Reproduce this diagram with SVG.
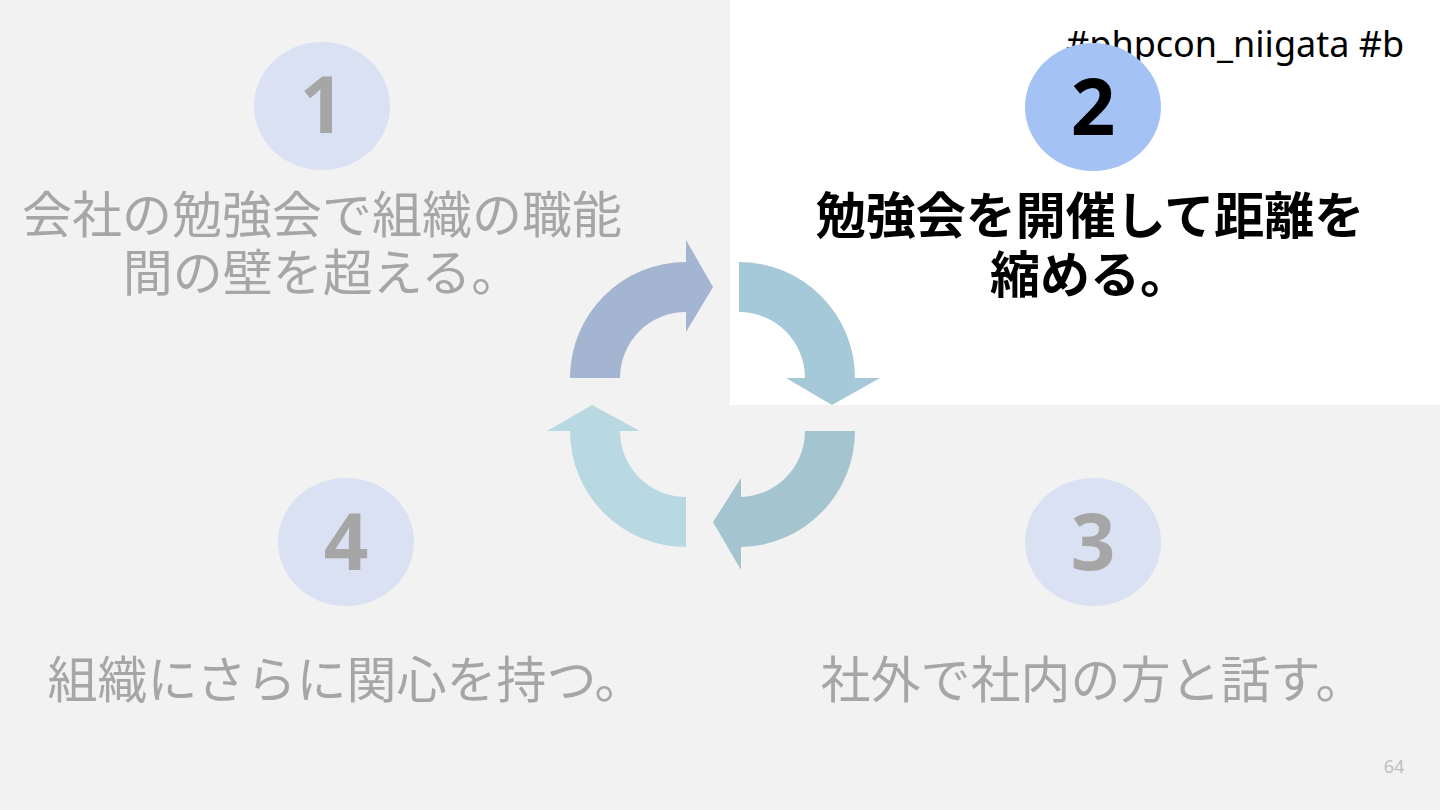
<svg xmlns="http://www.w3.org/2000/svg" width="1440" height="810" viewBox="0 0 1440 810">
<style>
.jp{font-family:"Noto Sans CJK JP","Noto Sans",sans-serif;font-size:50px;text-anchor:middle}
.dim{fill:#a6a6a6}
.num{font-family:"Noto Sans","Open Sans",sans-serif;font-weight:bold;font-size:78px;text-anchor:middle}
.cdim{fill:#d9e1f2}
</style>
<rect width="1440" height="810" fill="#f2f2f2"/>
<rect x="730" y="0" width="710" height="405" fill="#ffffff"/>
<text x="1066" y="57" font-family="Noto Sans, Open Sans, sans-serif" font-size="36" fill="#000">#phpcon_niigata #b</text>
<g id="connectors">
<path d="M570,378 A116,116 0 0 1 686,262 L686,240 L713,287 L686,332 L686,312 A66,66 0 0 0 620,378 Z" fill="#a3b5d0"/>
<path d="M739,262 A116,116 0 0 1 855,378 L880,378 L832,405 L786,378 L805,378 A66,66 0 0 0 739,312 Z" fill="#a6c9d9"/>
<path d="M855,431 A116,116 0 0 1 741,547 L741,570 L713,522 L741,478 L741,497 A66,66 0 0 0 805,431 Z" fill="#a4c5cf"/>
<path d="M686,547 A116,116 0 0 1 570,431 L547,431 L592,405 L640,431 L620,431 A66,66 0 0 0 686,497 Z" fill="#b9d9e2"/>
</g>
<g id="node1">
<ellipse cx="322" cy="106" rx="68" ry="64" class="cdim"/>
<text x="322" y="133" class="num dim">1</text>
<text x="322" y="233" class="jp dim">会社の勉強会で組織の職能</text>
<text x="322" y="291" class="jp dim">間の壁を超える。</text>
</g>
<g id="node2">
<ellipse cx="1093" cy="107" rx="68" ry="64" fill="#a4c2f4"/>
<text x="1093" y="135" class="num" fill="#000">2</text>
<text x="1090" y="234" class="jp" font-weight="bold" fill="#000">勉強会を開催して距離を</text>
<text x="1090" y="293" class="jp" font-weight="bold" fill="#000">縮める。</text>
</g>
<g id="node3">
<ellipse cx="1093" cy="542" rx="68" ry="64" class="cdim"/>
<text x="1093" y="570" class="num dim">3</text>
<text x="1093" y="698" class="jp dim">社外で社内の方と話す。</text>
</g>
<g id="node4">
<ellipse cx="346" cy="542" rx="68" ry="64" class="cdim"/>
<text x="346" y="570" class="num dim">4</text>
<text x="346" y="698" class="jp dim">組織にさらに関心を持つ。</text>
</g>
<text x="1394" y="773" font-family="Noto Sans, sans-serif" font-size="18" fill="#bfbfbf" text-anchor="middle">64</text>
</svg>
